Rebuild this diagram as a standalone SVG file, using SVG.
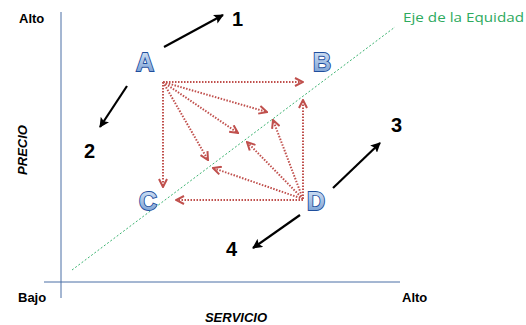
<svg xmlns="http://www.w3.org/2000/svg" width="526" height="325" viewBox="0 0 526 325">
<style>
.lbl{font-family:"Liberation Sans",Arial,sans-serif;font-weight:bold;font-size:13px;fill:#000}
.ax{font-family:"Liberation Sans",Arial,sans-serif;font-weight:bold;font-style:italic;font-size:13px;fill:#000}
.num{font-family:"Liberation Sans",Arial,sans-serif;font-weight:bold;font-size:20px;fill:#000}
.let{font-family:"Liberation Sans",Arial,sans-serif;font-weight:bold;font-size:25px;fill:url(#lg);stroke:#1f4e9c;stroke-width:1.8;paint-order:stroke}
.red{stroke:#c0504d;stroke-width:2;stroke-dasharray:1.5 1.5;fill:none;marker-end:url(#rh)}
.blk{stroke:#000;stroke-width:2.2;fill:none;marker-end:url(#bh)}
.axis{stroke:#4a6fa5;stroke-width:1;fill:none}
</style>
<defs>
<linearGradient id="lg" x1="0" y1="0" x2="0" y2="1">
<stop offset="0" stop-color="#dde9f8"/><stop offset="1" stop-color="#6f98d0"/>
</linearGradient>
<marker id="rh" viewBox="0 0 10 10" refX="9" refY="5" markerWidth="5" markerHeight="5" orient="auto" markerUnits="strokeWidth">
<path d="M1,1 L9,5 L1,9" fill="none" stroke="#c0504d" stroke-width="2"/>
</marker>
<marker id="bh" viewBox="0 0 10 10" refX="9" refY="5" markerWidth="4.5" markerHeight="4.5" orient="auto" markerUnits="strokeWidth">
<path d="M0,0 L10,5 L0,10 L2,5 Z" fill="#000"/>
</marker>
</defs>
<g id="axes">
<line class="axis" x1="61" y1="12" x2="61" y2="298"/>
<line class="axis" x1="44" y1="282" x2="400" y2="282"/>
<line x1="72" y1="270" x2="395" y2="27" stroke="#3cb371" stroke-width="1" stroke-dasharray="2 2"/>
</g>
<g id="labels">
<text class="lbl" x="19" y="23">Alto</text>
<text class="lbl" x="18" y="302">Bajo</text>
<text class="lbl" x="402" y="302">Alto</text>
<text class="ax" x="236" y="322" text-anchor="middle">SERVICIO</text>
<text class="ax" transform="translate(27,150) rotate(-90)" text-anchor="middle">PRECIO</text>
<text x="403" y="22" font-family="'Open Sans','Liberation Sans',sans-serif" font-size="13.5" fill="#2eaa5e" textLength="121" lengthAdjust="spacingAndGlyphs">Eje de la Equidad</text>
</g>
<g id="node-A"><text class="let" x="145" y="71" text-anchor="middle">A</text></g>
<g id="node-B"><text class="let" x="322" y="71" text-anchor="middle">B</text></g>
<g id="node-C"><text class="let" x="148" y="210" text-anchor="middle">C</text></g>
<g id="node-D"><text class="let" x="316" y="210" text-anchor="middle">D</text></g>
<g id="numbers">
<text class="num" x="232" y="26">1</text>
<text class="num" x="84" y="158">2</text>
<text class="num" x="391" y="132">3</text>
<text class="num" x="226" y="256">4</text>
</g>
<g id="connectors">
<line class="red" x1="163" y1="82" x2="303" y2="82"/>
<line class="red" x1="163" y1="82" x2="267" y2="112"/>
<line class="red" x1="163" y1="82" x2="238" y2="133"/>
<line class="red" x1="163" y1="82" x2="208" y2="160"/>
<line class="red" x1="163" y1="82" x2="163" y2="187"/>
<line class="red" x1="303" y1="199" x2="303" y2="100"/>
<line class="red" x1="303" y1="199" x2="273" y2="120"/>
<line class="red" x1="303" y1="199" x2="247" y2="142"/>
<line class="red" x1="303" y1="199" x2="213" y2="168"/>
<line class="red" x1="303" y1="200" x2="176" y2="200"/>
<line class="blk" x1="164" y1="47" x2="223" y2="15"/>
<line class="blk" x1="127" y1="86" x2="100" y2="127"/>
<line class="blk" x1="333" y1="188" x2="380" y2="143"/>
<line class="blk" x1="300" y1="215" x2="253" y2="248"/>
</g>
</svg>
